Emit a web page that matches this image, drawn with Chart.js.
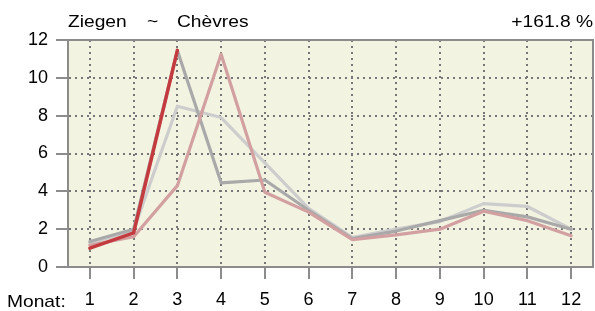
<!DOCTYPE html>
<html>
<head>
<meta charset="utf-8">
<script src="https://cdn.jsdelivr.net/npm/chart.js"></script>
<style>
    html, body { margin: 0; padding: 0; background: #fff; }
    #wrap { width: 595px; height: 311px; }
</style>
</head>
<body>
<div id="wrap"><canvas id="chart_id" width="595" height="311"></canvas></div>
<script>
    // 데이터
    const months = ['1', '2', '3', '4', '5', '6', '7', '8', '9', '10', '11', '12'];
    const yTicks = [0, 2, 4, 6, 8, 10, 12];
    const current = [1.0, 1.8, 11.45, null, null, null, null, null, null, null, null, null];
    const prev1 = [1.35, 2.0, 11.45, 4.45, 4.6, 3.0, 1.5, 1.9, 2.45, 3.0, 2.65, 2.0];
    const prev2 = [1.15, 1.6, 4.3, 11.25, 3.95, 2.9, 1.45, 1.7, 2.0, 2.95, 2.45, 1.65];
    const prev3 = [1.25, 1.95, 8.5, 7.9, 5.5, 3.1, 1.55, 2.0, 2.4, 3.35, 3.2, 2.0];

    const titleLeft = ['Ziegen', '~', 'Chèvres'];
    const titleRight = '+161.8 %';
    const xName = 'Monat:';

    const FONT = '"Liberation Sans", Arial, sans-serif';

    // 가로로 살짝 늘린 텍스트
    function wideText(ctx, txt, x, y, align) {
        ctx.save();
        ctx.font = '17px ' + FONT;
        ctx.fillStyle = '#000';
        ctx.textBaseline = 'alphabetic';
        ctx.textAlign = align;
        ctx.translate(x, y);
        ctx.scale(1.13, 1);
        ctx.fillText(txt, 0, 0);
        ctx.restore();
    }

    const framePlugin = {
        id: 'frame',
        beforeDraw(chart) {
            const { ctx, chartArea: a } = chart;
            ctx.save();
            ctx.fillStyle = '#f3f3e2';
            ctx.fillRect(a.left, a.top, a.right - a.left, a.bottom - a.top);
            ctx.restore();
        },
        afterDatasetsDraw(chart) {
            const { ctx, chartArea: a } = chart;
            ctx.save();
            ctx.strokeStyle = '#8c8c8c';
            ctx.lineWidth = 2;
            ctx.beginPath();
            ctx.moveTo(a.left, a.top);
            ctx.lineTo(a.right, a.top);
            ctx.lineTo(a.right, a.bottom);
            ctx.stroke();
            ctx.restore();
        },
        afterDraw(chart) {
            const { ctx, chartArea: a } = chart;
            wideText(ctx, titleLeft[0], 68, 27, 'left');
            wideText(ctx, titleLeft[1], 147, 27, 'left');
            wideText(ctx, titleLeft[2], 177, 27, 'left');
            wideText(ctx, titleRight, a.right, 27, 'right');
            wideText(ctx, xName, 7, 307, 'left');
        }
    };

    const gridStyle = {
        color: '#767676',
        lineWidth: 2,
        tickColor: '#8c8c8c',
        tickWidth: 2,
        tickLength: 12,
        tickBorderDash: []
    };
    // v4: 격자 점선은 border.dash
    const borderStyle = { color: '#8c8c8c', width: 2, dash: [2, 4] };

    new Chart(document.getElementById('chart_id'), {
        type: 'line',
        data: {
            labels: months,
            datasets: [
                { data: current, borderColor: '#c43b3f', borderWidth: 3.5 },
                { data: prev2, borderColor: '#d2a0a0', borderWidth: 3.2 },
                { data: prev1, borderColor: '#a9a9a9', borderWidth: 3.2 },
                { data: prev3, borderColor: '#cdcdcd', borderWidth: 3.2 }
            ]
        },
        options: {
            responsive: false,
            animation: false,
            events: [],
            elements: { point: { radius: 0 }, line: { tension: 0, borderCapStyle: 'round', borderJoinStyle: 'round' } },
            layout: { padding: { top: 40, right: 2, left: 0, bottom: 0 } },
            plugins: { legend: { display: false }, tooltip: { enabled: false } },
            scales: {
                x: {
                    offset: true,
                    grid: Object.assign({ offset: false }, gridStyle),
                    border: borderStyle,
                    ticks: { color: '#000', font: { family: FONT, size: 18 }, padding: 10, maxRotation: 0 },
                    afterFit(scale) { scale.height = 44; }
                },
                y: {
                    min: 0,
                    max: 12,
                    afterBuildTicks(scale) { scale.ticks = yTicks.map(v => ({ value: v })); },
                    grid: gridStyle,
                    border: borderStyle,
                    ticks: { color: '#000', font: { family: FONT, size: 18 }, padding: 8 },
                    afterFit(scale) { scale.width = 68; }
                }
            }
        },
        plugins: [framePlugin]
    });
</script>
</body>
</html>
